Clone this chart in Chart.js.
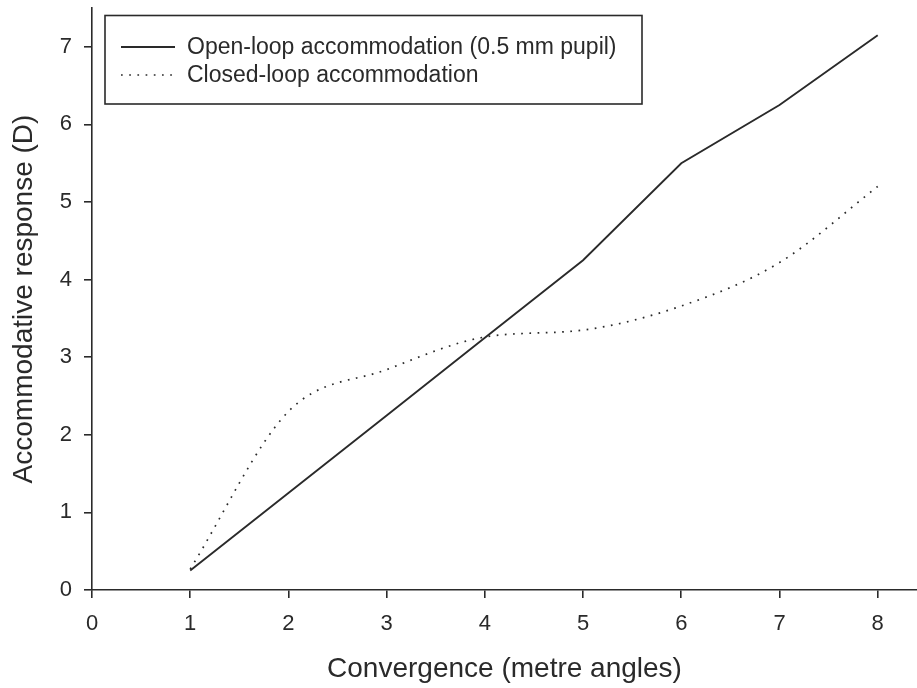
<!DOCTYPE html>
<html>
<head>
<meta charset="utf-8">
<script src="https://cdn.jsdelivr.net/npm/chart.js@4"></script>
<style>
html,body{margin:0;padding:0;background:#fff;}
#wrap{width:917px;height:688px;position:relative;}
</style>
</head>
<body>
<div id="wrap"><canvas id="c" width="917" height="688"></canvas></div>
<script>
const convergence = [1, 2, 3, 4, 5, 6, 7, 8];
const openLoop = [0.25, 1.25, 2.25, 3.25, 4.25, 5.5, 6.25, 7.15];
const closedLoop = [0.27, 2.3, 2.84, 3.26, 3.35, 3.66, 4.22, 5.2];
const xTicks = [0, 1, 2, 3, 4, 5, 6, 7, 8];
const yTicks = [0, 1, 2, 3, 4, 5, 6, 7];
const seriesNames = ['Open-loop accommodation (0.5 mm pupil)', 'Closed-loop accommodation'];
const xTitle = 'Convergence (metre angles)';
const yTitle = 'Accommodative response (D)';

const FONT = '"Liberation Sans", Arial, Helvetica, sans-serif';
const INK = '#2a2a2a';

const legendPlugin = {
  id: 'boxLegend',
  afterDraw(chart) {
    const ctx = chart.ctx;
    ctx.save();
    const x0 = 105, y0 = 15.5, w = 537, h = 88.5;
    ctx.strokeStyle = INK;
    ctx.lineWidth = 1.6;
    ctx.strokeRect(x0, y0, w, h);
    const rows = [47, 75];
    chart.data.datasets.forEach((ds, i) => {
      ctx.beginPath();
      ctx.strokeStyle = ds.borderColor;
      ctx.lineWidth = ds.borderWidth;
      ctx.setLineDash(ds.borderDash || []);
      ctx.moveTo(121, rows[i]);
      ctx.lineTo(175, rows[i]);
      ctx.stroke();
      ctx.setLineDash([]);
      ctx.fillStyle = INK;
      ctx.font = '23px ' + FONT;
      ctx.textBaseline = 'middle';
      ctx.textAlign = 'left';
      ctx.fillText(ds.label, 187, rows[i] + 1);
    });
    ctx.restore();
  }
};

new Chart(document.getElementById('c'), {
  type: 'line',
  data: {
    datasets: [
      {
        label: seriesNames[0],
        data: convergence.map((x, i) => ({x: x, y: openLoop[i]})),
        borderColor: INK,
        borderWidth: 1.9,
        pointRadius: 0,
        tension: 0,
        fill: false
      },
      {
        label: seriesNames[1],
        data: convergence.map((x, i) => ({x: x, y: closedLoop[i]})),
        borderColor: INK,
        borderWidth: 1.7,
        borderDash: [1.7, 6.5],
        pointRadius: 0,
        cubicInterpolationMode: 'monotone',
        fill: false
      }
    ]
  },
  options: {
    responsive: false,
    animation: false,
    devicePixelRatio: 1,
    layout: {padding: {left: 0, right: 0, top: 0, bottom: 0}},
    plugins: {legend: {display: false}, tooltip: {enabled: false}},
    scales: {
      x: {
        type: 'linear',
        min: 0,
        max: 8.4,
        afterBuildTicks: s => { s.ticks = xTicks.map(v => ({value: v})); },
        afterFit: s => { s.height = 98; s.paddingRight = 0; s.paddingLeft = 0; },
        grid: {drawOnChartArea: false, drawTicks: true, tickLength: 8, color: INK, lineWidth: 1.6},
        border: {display: true, color: INK, width: 1.6},
        ticks: {color: INK, font: {family: FONT, size: 22}, padding: 13, maxRotation: 0},
        title: {display: true, text: xTitle, color: INK, font: {family: FONT, size: 28}, padding: {top: 0, bottom: 2}}
      },
      y: {
        type: 'linear',
        min: 0,
        max: 7.5,
        afterBuildTicks: s => { s.ticks = yTicks.map(v => ({value: v})); },
        afterFit: s => { s.width = 92; s.paddingTop = 8; s.paddingBottom = 0; },
        grid: {drawOnChartArea: false, drawTicks: true, tickLength: 8, color: INK, lineWidth: 1.6},
        border: {display: true, color: INK, width: 1.6},
        ticks: {color: INK, font: {family: FONT, size: 22}, padding: 12},
        title: {display: true, text: yTitle, color: INK, font: {family: FONT, size: 28}, padding: {top: 7, bottom: 0}}
      }
    }
  },
  plugins: [legendPlugin]
});
</script>
</body>
</html>
